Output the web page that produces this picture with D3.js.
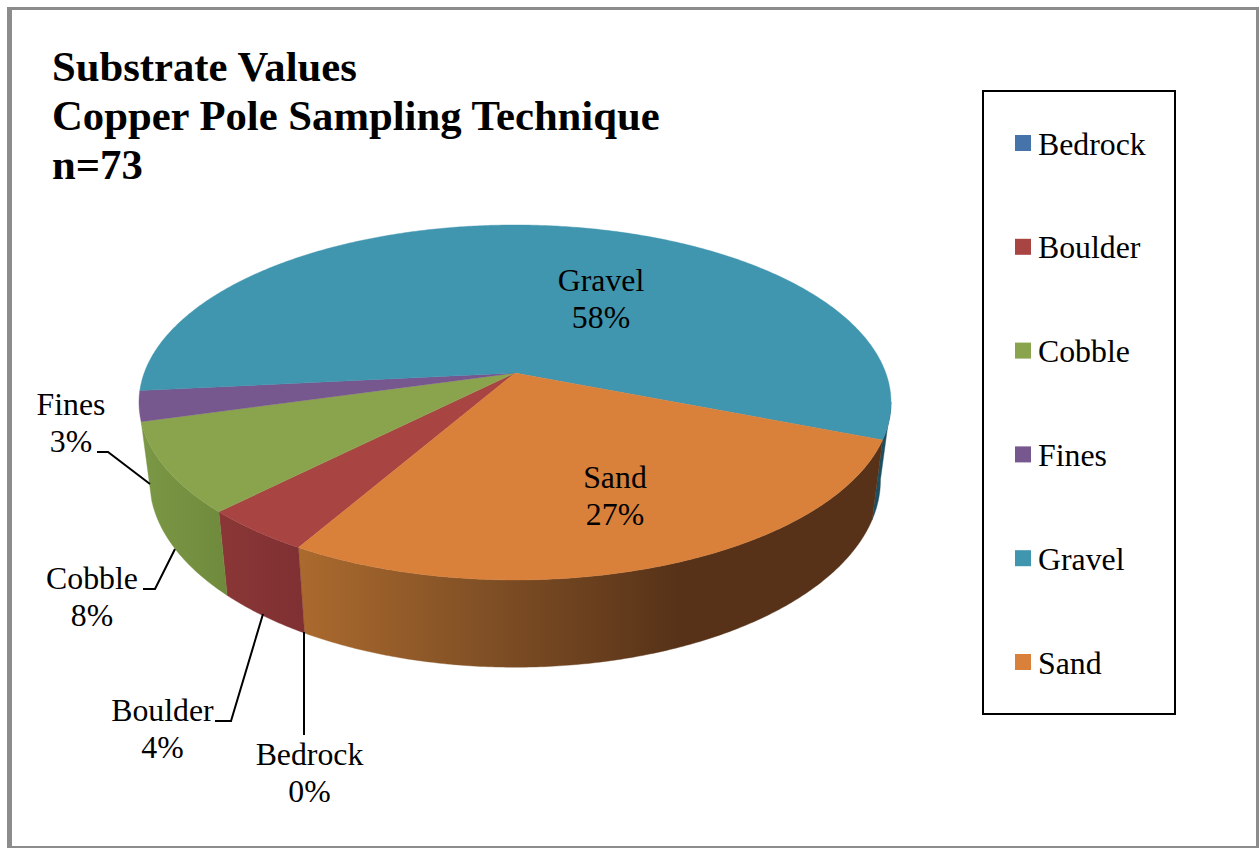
<!DOCTYPE html>
<html>
<head>
<meta charset="utf-8">
<script src="https://cdn.jsdelivr.net/npm/d3@7/dist/d3.min.js"></script>
<style>
html,body{margin:0;padding:0;background:#fff;overflow:hidden}
svg{display:block}
text{font-family:"Liberation Serif","Times New Roman",serif;fill:#000}
</style>
</head>
<body>
<svg id="chart" width="1259" height="848"></svg>
<script>
const titleLines = ["Substrate Values", "Copper Pole Sampling Technique", "n=73"];
const categories = ["Bedrock", "Boulder", "Cobble", "Fines", "Gravel", "Sand"];
const counts = [0, 3, 6, 2, 42, 20];
const topColors = ["#4673A9", "#A84442", "#8AA44E", "#76578E", "#4095AF", "#D9803A"];

const W = 1259, H = 848;
const svg = d3.select("#chart");
const defs = svg.append("defs");
const deg = Math.PI / 180;
const turn = 360 * deg;

// frame
const grey = "#8c8c8c";
svg.append("rect").attr("x", 7).attr("y", 7).attr("width", 5).attr("height", H - 7).attr("fill", grey);
svg.append("rect").attr("x", 7).attr("y", 7).attr("width", W - 7).attr("height", 3).attr("fill", grey);
svg.append("rect").attr("x", 1256).attr("y", 7).attr("width", 3).attr("height", H - 7).attr("fill", grey);
svg.append("rect").attr("x", 7).attr("y", 846).attr("width", W - 7).attr("height", 2).attr("fill", grey);

// title
svg.append("g").selectAll("text").data(titleLines).join("text")
  .attr("x", 52).attr("y", (d, i) => 81 + i * 49)
  .attr("font-size", 42.7).attr("font-weight", "bold").text(d => d);

// pie angles from the library
const slices = d3.pie().sort(null).value(d => d)
  .startAngle(210 * deg).endAngle(570 * deg)(counts)
  .map((s, i) => ({...s, name: categories[i], color: topColors[i]}));

// perspective disc → screen
const persp = -0.166;
const discTop = {cx: 515, cy: 373, dx: 370.8, ky: 172.6};
const discBot = {cx: 515, cy: 449, dx: 360.4, ky: 182};
function project(disc, a) {
  const u = Math.sin(a), v = -Math.cos(a), w = 1 + persp * v;
  return [disc.cx + disc.dx * u / w, disc.cy + disc.ky * v / w];
}
function arcPts(disc, a0, a1) {
  const n = Math.max(2, Math.ceil(Math.abs(a1 - a0) / (0.5 * deg)));
  return d3.range(n + 1).map(i => project(disc, a0 + (a1 - a0) * i / n));
}
const line = d3.line().curve(d3.curveLinear);

// walls: colour ramps run left to right across the screen
function ramp(id, x0, x1, stops) {
  const g = defs.append("linearGradient").attr("id", id)
    .attr("gradientUnits", "userSpaceOnUse")
    .attr("x1", x0).attr("x2", x1).attr("y1", 0).attr("y2", 0);
  stops.forEach(s => g.append("stop").attr("offset", s[0]).attr("stop-color", s[1]));
  return `url(#${id})`;
}
const sandWall = ramp("sandWall", 300, 680, [[0, "#AB6A2E"], [0.5, "#7F4F25"], [1, "#573218"]]);
const boulderWall = ramp("boulderWall", 222, 304, [[0, "#8A3636"], [1, "#7F3032"]]);
const cobbleWall = ramp("cobbleWall", 145, 226, [[0, "#7A9745"], [1, "#6F8A3C"]]);

function wall(a0, a1, fill) {
  const pts = arcPts(discTop, a0, a1).concat(arcPts(discBot, a1, a0));
  svg.append("path").attr("d", line(pts) + "Z").attr("fill", fill)
    .attr("stroke", fill).attr("stroke-width", 0.4);
}
const byName = n => slices.find(s => s.name === n);
const sand = byName("Sand"), boulder = byName("Boulder"), cobble = byName("Cobble");
const silhouetteAngle = 99.4 * deg;
wall(silhouetteAngle, sand.startAngle - turn, "#1C4F61");
wall(sand.startAngle - turn, sand.endAngle - turn, sandWall);
wall(boulder.startAngle, boulder.endAngle, boulderWall);
wall(cobble.startAngle, cobble.endAngle, cobbleWall);

// top faces
svg.append("g").selectAll("path").data(slices.filter(s => s.value > 0)).join("path")
  .attr("d", s => line([[discTop.cx, discTop.cy], ...arcPts(discTop, s.startAngle, s.endAngle)]) + "Z")
  .attr("fill", s => s.color).attr("stroke", s => s.color).attr("stroke-width", 0.4);

// data labels
const pct = s => Math.round(s.value / d3.sum(counts) * 100) + "%";
const labelAt = {
  Bedrock: [309.5, 765, 802], Boulder: [162.5, 721, 758], Cobble: [92, 589, 626],
  Fines: [71, 415, 452], Gravel: [601, 291, 328], Sand: [615, 488, 525]
};
const labels = svg.append("g").attr("font-size", 31.8).attr("text-anchor", "middle");
slices.forEach(s => {
  const [x, y1, y2] = labelAt[s.name];
  labels.append("text").attr("x", x).attr("y", y1).text(s.name);
  labels.append("text").attr("x", x).attr("y", y2).text(pct(s));
});

// leader lines
const leaders = [
  [[97, 452], [108, 452], [150, 484]],
  [[143, 589], [155, 589], [175, 549]],
  [[215, 721], [231, 721], [263, 614]],
  [[304, 632], [304, 735]]
];
svg.append("g").selectAll("path").data(leaders).join("path")
  .attr("d", d => line(d)).attr("fill", "none").attr("stroke", "#000").attr("stroke-width", 2);

// legend
svg.append("rect").attr("x", 983).attr("y", 91).attr("width", 192).attr("height", 623)
  .attr("fill", "#fff").attr("stroke", "#000").attr("stroke-width", 2);
const legendY = d3.scalePoint().domain(categories).range([143, 662]);
const legend = svg.append("g").selectAll("g").data(slices).join("g")
  .attr("transform", s => `translate(0,${legendY(s.name)})`);
legend.append("rect").attr("x", 1015).attr("y", -8).attr("width", 16).attr("height", 16).attr("fill", s => s.color);
legend.append("text").attr("x", 1038).attr("y", 11.5).attr("font-size", 31.8).text(s => s.name);
</script>
</body>
</html>
